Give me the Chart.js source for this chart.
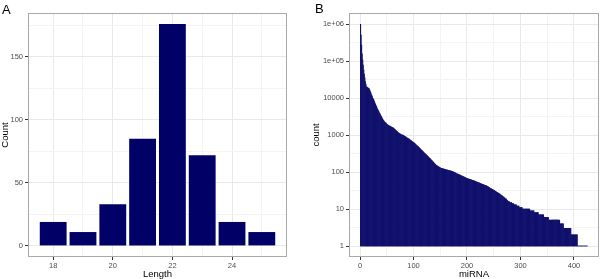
<!DOCTYPE html>
<html>
<head>
<meta charset="utf-8">
<script src="https://cdn.jsdelivr.net/npm/chart.js@4.4.0/dist/chart.umd.min.js"></script>
<style>
  html, body { margin: 0; padding: 0; background: #fff; }
  #wrap { position: relative; width: 600px; height: 279px; overflow: hidden; }
  canvas { position: absolute; top: 0; }
  .tag { position: absolute; font: 13px "Liberation Sans", Arial, sans-serif; line-height: 13px; color: #000; }
</style>
</head>
<body>
<div id="wrap">
  <canvas id="chartA" width="300" height="279" style="left:0"></canvas>
  <canvas id="chartB" width="300" height="279" style="left:300px"></canvas>
  <div class="tag" style="left:2px;top:3px">A</div>
  <div class="tag" style="left:315px;top:2px">B</div>
</div>
<script>
// Panel A - read lengths
const lengths = [18, 19, 20, 21, 22, 23, 24, 25];
const lengthCounts = [19, 11, 33, 85, 176, 72, 19, 11];
const lengthTicks = [18, 20, 22, 24];
const lengthMinor = [19, 21, 23, 25];
const countTicksA = [0, 50, 100, 150];
const countMinorA = [25, 75, 125, 175];

// Panel B - reads per miRNA, sorted
const mirnaCounts = [
  1000000, 513000, 275000, 158000, 110000, 79000, 57500, 44700, 35500, 28200,
  24000, 20400, 19900, 19500, 19000, 18600, 18200, 16800, 15600, 14500,
  13000, 12000, 11000, 10000, 9500, 8900, 8100, 7500, 6900, 6300,
  5900, 5400, 5000, 4700, 4400, 4100, 3900, 3600, 3400, 3200,
  3000, 2800, 2630, 2500, 2400, 2300, 2200, 2150, 2090, 2000,
  1950, 1900, 1850, 1800, 1780, 1750, 1720, 1690, 1660, 1630,
  1600, 1580, 1530, 1480, 1440, 1400, 1360, 1320, 1280, 1240,
  1200, 1160, 1120, 1100, 1080, 1060, 1040, 1020, 1010, 1000,
  985, 965, 945, 925, 905, 885, 865, 845, 825, 810,
  795, 780, 760, 740, 720, 700, 680, 665, 650, 635,
  618, 600, 580, 560, 545, 530, 515, 500, 485, 470,
  452, 437, 424, 410, 396, 382, 370, 358, 346, 335,
  324, 313, 302, 292, 283, 274, 265, 257, 248, 240,
  232, 224, 216, 208, 201, 194, 187, 180, 174, 168,
  162, 156, 151, 148, 145, 142, 139, 136, 133, 131,
  128, 126, 125, 124, 123, 122, 121, 120, 119, 118,
  116, 115, 114, 113, 112, 111, 110, 109, 108, 107,
  106, 105, 104, 102, 100, 98, 97, 95, 94, 92,
  91, 89, 88, 87, 86, 85, 83, 82, 80, 79,
  78, 77, 76, 75, 74, 72, 71, 70, 68, 67,
  67, 66, 65, 65, 64, 63, 62, 62, 61, 60,
  60, 59, 58, 57, 57, 56, 55, 54, 54, 53,
  52, 51, 51, 50, 49, 49, 48, 47, 47, 46,
  45, 45, 44, 44, 43, 43, 42, 41, 40, 40,
  39, 38, 37, 36, 36, 35, 34, 34, 33, 32,
  32, 31, 30, 30, 29, 28, 28, 27, 27, 26,
  26, 25, 24, 24, 23, 23, 22, 21, 21, 20,
  20, 19, 19, 18, 17, 17, 16, 16, 16, 15,
  15, 15, 15, 14, 14, 14, 14, 13, 13, 13,
  13, 13, 12, 12, 12, 12, 12, 11, 11, 11,
  11, 11, 11, 10, 10, 10, 10, 10, 10, 10,
  10, 10, 10, 10, 10, 10, 10, 9, 9, 9,
  9, 9, 9, 9, 9, 8, 8, 8, 8, 8,
  8, 8, 8, 7, 7, 7, 7, 7, 7, 7,
  7, 7, 7, 6, 6, 6, 6, 6, 6, 6,
  6, 6, 5, 5, 5, 5, 5, 5, 5, 5,
  5, 5, 5, 5, 5, 5, 5, 5, 5, 5,
  5, 5, 5, 4, 4, 4, 4, 4, 4, 4,
  3, 3, 3, 3, 3, 3, 3, 3, 3, 3,
  3, 3, 3, 3, 2, 2, 2, 2, 2, 2,
  2, 2, 2, 2, 2, 2, 1, 1, 1, 1,
  1, 1, 1, 1, 1, 1, 1, 1, 1, 1,
  1, 1, 1, 1, 1
];
const mirnaTicks = [0, 100, 200, 300, 400];
const mirnaMinor = [50, 150, 250, 350];
const logTicks = [1, 10, 100, 1000, 10000, 100000, 1000000];
const logLabels = ['1', '10', '100', '1000', '10000', '1e+05', '1e+06'];
const logMinor = [3.162, 31.62, 316.2, 3162, 31623, 316228];

const NAVY = '#000066';
Chart.defaults.font.family = '"Liberation Sans", Arial, sans-serif';

// ggplot-like panel border
const khung = {
  id: 'khung',
  afterDatasetsDraw(chart) {
    const { ctx, chartArea: a } = chart;
    ctx.save();
    ctx.strokeStyle = '#a9a9a9';
    ctx.lineWidth = 1;
    ctx.strokeRect(a.left + 0.5, a.top + 0.5, a.right - a.left - 1, a.bottom - a.top - 1);
    ctx.restore();
  }
};

function ghepTicks(major, minor, labels) {
  const arr = major.map((v, i) => ({ value: v, lbl: labels ? labels[i] : String(v) }))
    .concat(minor.map(v => ({ value: v, minor: true, lbl: '' })));
  return arr.sort((a, b) => a.value - b.value);
}

function trucChung(title, extra) {
  const truc = Object.assign({
    offset: false,
    border: { display: false },
    grid: {
      offset: false,
      tickLength: 3,
      color: c => (c.tick && c.tick.minor) ? '#f4f4f4' : '#e9e9e9',
      tickColor: c => (c.tick && c.tick.minor) ? 'rgba(0,0,0,0)' : '#333333'
    },
    ticks: {
      autoSkip: false, maxRotation: 0, padding: 2,
      color: '#4d4d4d', font: { size: 7.5 },
      callback: (v, i, t) => t[i].lbl
    },
    title: { display: true, text: title, color: '#000', font: { size: 9.5 }, padding: 0 }
  }, extra);
  if (extra.axis === 'x') {
    truc.ticks.padding = 1;
    truc.title.padding = { top: 0, bottom: -1 };
  }
  return truc;
}

const chungOpts = {
  responsive: false,
  animation: false,
  devicePixelRatio: 1,
  plugins: { legend: { display: false }, tooltip: { enabled: false } }
};

new Chart(document.getElementById('chartA'), {
  type: 'bar',
  data: {
    datasets: [{
      data: lengths.map((l, i) => ({ x: l, y: lengthCounts[i] })),
      backgroundColor: NAVY,
      borderWidth: 0,
      inflateAmount: 0,
      barPercentage: 0.9,
      categoryPercentage: 1
    }]
  },
  options: Object.assign({}, chungOpts, {
    layout: { padding: { top: 13, right: 13, left: 0, bottom: 0 } },
    scales: {
      x: trucChung('Length', {
        axis: 'x', type: 'linear', min: 17.155, max: 25.845,
        afterBuildTicks: s => { s.ticks = ghepTicks(lengthTicks, lengthMinor); },
        afterFit: s => { s.height = 22; }
      }),
      y: trucChung('Count', {
        axis: 'y', type: 'linear', min: -8.8, max: 184.8,
        afterBuildTicks: s => { s.ticks = ghepTicks(countTicksA, countMinorA); },
        afterFit: s => { s.width = 28; }
      })
    }
  }),
  plugins: [khung]
});

new Chart(document.getElementById('chartB'), {
  type: 'bar',
  data: {
    datasets: [{
      data: mirnaCounts.map((v, i) => ({ x: i + 1, y: [1, v] })),
      backgroundColor: '#10106c',
      borderWidth: 0,
      inflateAmount: 0.3,
      barPercentage: 1,
      categoryPercentage: 1
    }]
  },
  options: Object.assign({}, chungOpts, {
    layout: { padding: { top: 13, right: 1, left: 11, bottom: 0 } },
    scales: {
      x: trucChung('miRNA', {
        axis: 'x', type: 'linear', min: -20.6, max: 446.8,
        afterBuildTicks: s => { s.ticks = ghepTicks(mirnaTicks, mirnaMinor); },
        afterFit: s => { s.height = 22; }
      }),
      y: trucChung('count', {
        axis: 'y', type: 'logarithmic', min: 0.504, max: 2020000,
        afterBuildTicks: s => { s.ticks = ghepTicks(logTicks, logMinor, logLabels); },
        afterFit: s => { s.width = 38; }
      })
    }
  }),
  plugins: [khung]
});
</script>
</body>
</html>
